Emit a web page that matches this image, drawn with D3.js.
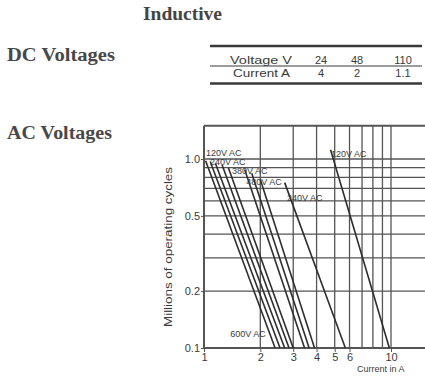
<!DOCTYPE html>
<html><head><meta charset="utf-8">
<script src="https://cdn.jsdelivr.net/npm/d3@7"></script>
<style>body{margin:0;background:#fff}svg{display:block}</style>
</head><body>
<script>
// ---- data ----
const dcVoltages = ["24", "48", "110"];
const dcCurrents = ["4", "2", "1.1"];
const xTicks = [1, 2, 3, 4, 5, 6, 10];
const yTicks = [0.1, 0.2, 0.5, 1.0];
const xGrid = [1, 2, 3, 4, 5, 6, 7, 8, 9, 10];
const yGrid = [0.1, 0.2, 0.3, 0.4, 0.5, 0.6, 0.7, 0.8, 0.9, 1.0];
// life lines: [current, millions of cycles] start and end
const lifeLines = [
  [[1.02, 0.98], [2.4, 0.1]],
  [[1.08, 0.97], [2.55, 0.1]],
  [[1.15, 0.95], [2.7, 0.1]],
  [[1.25, 0.93], [2.85, 0.1]],
  [[1.35, 0.90], [3.0, 0.1]],
  [[1.65, 0.88], [3.45, 0.1]],
  [[1.8, 0.84], [3.65, 0.1]],
  [[2.0, 0.78], [3.9, 0.1]],
  [[2.7, 0.75], [5.7, 0.1]],
  [[4.75, 1.12], [9.8, 0.1]]
];
const lineLabels = ["120V AC", "240V AC", "380V AC", "480V AC", "240V AC", "120V AC", "600V AC"];
const labelAt = [[1.025, 1.04], [1.076, 0.935], [1.41, 0.83], [1.68, 0.73], [2.78, 0.6], [4.77, 1.03], [1.38, 0.114]];

// ---- drawing ----
const W = 425, H = 383;
const ink = "#3a3a3a";
const svg = d3.select("body").append("svg").attr("width", W).attr("height", H)
  .style("font-family", "'Liberation Sans', Arial, sans-serif");

// headings
const serif = "'Liberation Serif', serif";
svg.append("text").attr("x", 143).attr("y", 20).text("Inductive")
  .attr("textLength", 79).attr("lengthAdjust", "spacingAndGlyphs")
  .style("font-family", serif).style("font-size", "18px").style("font-weight", "bold").attr("fill", "#444");
svg.append("text").attr("x", 7).attr("y", 61).text("DC Voltages")
  .attr("textLength", 108).attr("lengthAdjust", "spacingAndGlyphs")
  .style("font-family", serif).style("font-size", "18px").style("font-weight", "bold").attr("fill", "#484848");
svg.append("text").attr("x", 7).attr("y", 139).text("AC Voltages")
  .attr("textLength", 105).attr("lengthAdjust", "spacingAndGlyphs")
  .style("font-family", serif).style("font-size", "18px").style("font-weight", "bold").attr("fill", "#484848");

// DC table
const tbl = svg.append("g");
const rules = [[46, 2.5], [66, 1.2], [83.5, 2.5]];
tbl.selectAll("line").data(rules).join("line")
  .attr("x1", 210).attr("x2", 422).attr("y1", d => d[0]).attr("y2", d => d[0])
  .attr("stroke", ink).attr("stroke-width", d => d[1]);
const colPos = [321, 357, 403];
tbl.append("text").attr("x", 230).attr("y", 64).text("Voltage V")
  .attr("textLength", 62).attr("lengthAdjust", "spacingAndGlyphs").style("font-size", "11px").attr("fill", ink);
tbl.append("text").attr("x", 233).attr("y", 77).text("Current A")
  .attr("textLength", 57).attr("lengthAdjust", "spacingAndGlyphs").style("font-size", "11px").attr("fill", ink);
tbl.selectAll("text.v").data(dcVoltages).join("text").attr("class", "v")
  .attr("x", (d, i) => colPos[i]).attr("y", 64).attr("text-anchor", "middle")
  .style("font-size", "11px").attr("fill", ink).text(d => d);
tbl.selectAll("text.c").data(dcCurrents).join("text").attr("class", "c")
  .attr("x", (d, i) => colPos[i]).attr("y", 77).attr("text-anchor", "middle")
  .style("font-size", "11px").attr("fill", ink).text(d => d);

// chart scales
const x = d3.scaleLog().domain([1, 10]).range([204, 391]);
const y = d3.scaleLog().domain([0.1, 1.0]).range([348, 159]);
const xMax = 16, yMax = 1.5;

const plot = svg.append("g");
plot.selectAll("line.vg").data(xGrid).join("line").attr("class", "vg")
  .attr("x1", d => x(d)).attr("x2", d => x(d)).attr("y1", y(0.1)).attr("y2", y(yMax))
  .attr("stroke", "#555").attr("stroke-width", d => d === 1 ? 2 : 1.3);
plot.selectAll("line.hg").data(yGrid).join("line").attr("class", "hg")
  .attr("x1", x(1)).attr("x2", x(xMax)).attr("y1", d => y(d)).attr("y2", d => y(d))
  .attr("stroke", "#555").attr("stroke-width", d => d === 0.1 ? 2 : 1.3);
plot.append("line").attr("x1", x(1)).attr("x2", x(xMax)).attr("y1", y(yMax)).attr("y2", y(yMax))
  .attr("stroke", "#555").attr("stroke-width", 2);

// axes
const xAxis = d3.axisBottom(x).tickValues(xTicks).tickFormat(d3.format("d")).tickSize(4).tickPadding(1);
const gx = svg.append("g").attr("transform", `translate(0,${y(0.1)})`).call(xAxis);
const yAxis = d3.axisLeft(y).tickValues(yTicks).tickFormat(d => d.toFixed(1)).tickSize(3).tickPadding(1);
const gy = svg.append("g").attr("transform", `translate(${x(1)},0)`).call(yAxis);
[gx, gy].forEach(g => {
  g.select(".domain").remove();
  g.selectAll("line").attr("stroke", "#555");
  g.selectAll("text").style("font-size", "11px").attr("fill", ink)
    .style("font-family", "'Liberation Sans', Arial, sans-serif");
});

// life lines
const line = d3.line().x(d => x(d[0])).y(d => y(d[1]));
plot.selectAll("path.life").data(lifeLines).join("path").attr("class", "life")
  .attr("d", line).attr("fill", "none").attr("stroke", "#2e2e2e").attr("stroke-width", 1.6);

// line labels
plot.selectAll("text.lbl").data(lineLabels).join("text").attr("class", "lbl")
  .attr("x", (d, i) => x(labelAt[i][0])).attr("y", (d, i) => y(labelAt[i][1]))
  .style("font-size", "9px").attr("fill", ink).text(d => d);

// axis titles
svg.append("text").attr("transform", "translate(172,247) rotate(-90)").attr("text-anchor", "middle")
  .style("font-size", "10px").attr("fill", ink).attr("textLength", 160).attr("lengthAdjust", "spacingAndGlyphs")
  .text("Millions of operating cycles");
svg.append("text").attr("x", 357).attr("y", 372)
  .style("font-size", "9px").attr("fill", ink).text("Current in A");
</script>
</body></html>
